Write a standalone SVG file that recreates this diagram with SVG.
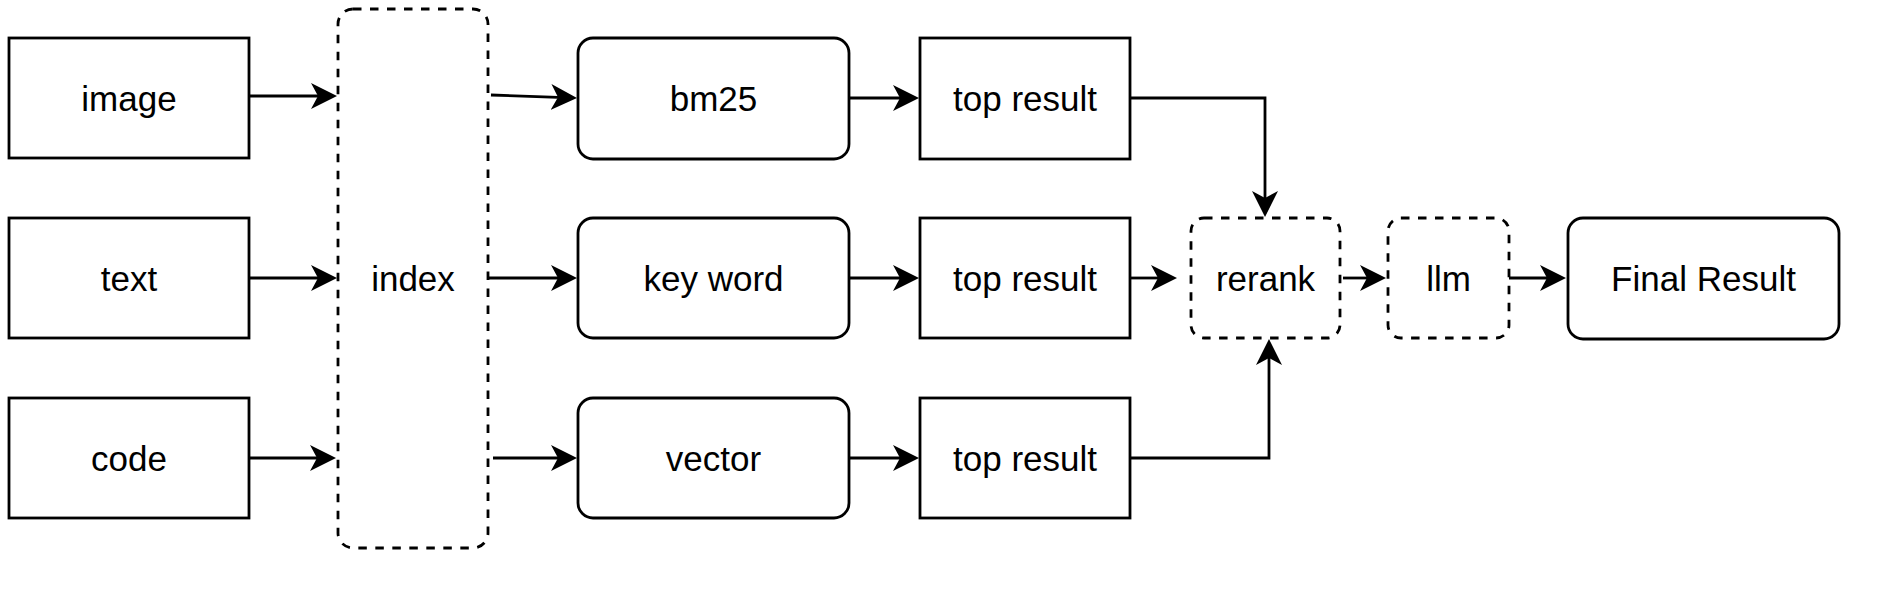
<svg xmlns="http://www.w3.org/2000/svg" width="1881" height="591" viewBox="0 0 1881 591">
  <style>
    .box { fill: #ffffff; stroke: #000000; stroke-width: 2.8; }
    .dash { fill: #ffffff; stroke: #000000; stroke-width: 2.8; stroke-dasharray: 8.5 8.5; }
    .lbl { font-family: "Liberation Sans", Helvetica, Arial, sans-serif; font-size: 35px; fill: #000000; text-anchor: middle; }
    .edge { fill: none; stroke: #000000; stroke-width: 2.8; }
  </style>
  <defs>
    <marker id="arrow" markerUnits="userSpaceOnUse" markerWidth="26" markerHeight="28" viewBox="0 0 26 28" refX="7" refY="14" orient="auto">
      <path d="M0,1 L26,14 L0,27 L7,14 Z" fill="#000000"/>
    </marker>
  </defs>
  <rect x="0" y="0" width="1881" height="591" fill="#ffffff"/>

  <g id="connectors">
    <path class="edge" marker-end="url(#arrow)" d="M249,96 L318,96"/>
    <path class="edge" marker-end="url(#arrow)" d="M249,278 L318,278"/>
    <path class="edge" marker-end="url(#arrow)" d="M249,458 L317,458"/>
    <path class="edge" marker-end="url(#arrow)" d="M491,95 L558,97.3"/>
    <path class="edge" marker-end="url(#arrow)" d="M488,278 L558,278"/>
    <path class="edge" marker-end="url(#arrow)" d="M493,458 L558,458"/>
    <path class="edge" marker-end="url(#arrow)" d="M849,98 L900,98"/>
    <path class="edge" marker-end="url(#arrow)" d="M849,278 L900,278"/>
    <path class="edge" marker-end="url(#arrow)" d="M849,458 L900,458"/>
    <path class="edge" marker-end="url(#arrow)" d="M1130,98 L1265,98 L1265,198"/>
    <path class="edge" marker-end="url(#arrow)" d="M1130,278 L1158,278"/>
    <path class="edge" marker-end="url(#arrow)" d="M1130,458 L1269,458 L1269,358"/>
    <path class="edge" marker-end="url(#arrow)" d="M1343,278 L1367,278"/>
    <path class="edge" marker-end="url(#arrow)" d="M1509,278 L1547,278"/>
  </g>

  <g id="node-image">
    <rect class="box" x="9" y="38" width="240" height="120"/>
    <text class="lbl" x="129" y="110.5">image</text>
  </g>
  <g id="node-text">
    <rect class="box" x="9" y="218" width="240" height="120"/>
    <text class="lbl" x="129" y="290.5">text</text>
  </g>
  <g id="node-code">
    <rect class="box" x="9" y="398" width="240" height="120"/>
    <text class="lbl" x="129" y="470.5">code</text>
  </g>
  <g id="node-index">
    <rect class="dash" x="338" y="9" width="150" height="539" rx="15" ry="15"/>
    <text class="lbl" x="413" y="290.5">index</text>
  </g>
  <g id="node-bm25">
    <rect class="box" x="578" y="38" width="271" height="121" rx="15" ry="15"/>
    <text class="lbl" x="713.5" y="111">bm25</text>
  </g>
  <g id="node-keyword">
    <rect class="box" x="578" y="218" width="271" height="120" rx="15" ry="15"/>
    <text class="lbl" x="713.5" y="290.5">key word</text>
  </g>
  <g id="node-vector">
    <rect class="box" x="578" y="398" width="271" height="120" rx="15" ry="15"/>
    <text class="lbl" x="713.5" y="470.5">vector</text>
  </g>
  <g id="node-top1">
    <rect class="box" x="920" y="38" width="210" height="121"/>
    <text class="lbl" x="1025" y="111">top result</text>
  </g>
  <g id="node-top2">
    <rect class="box" x="920" y="218" width="210" height="120"/>
    <text class="lbl" x="1025" y="290.5">top result</text>
  </g>
  <g id="node-top3">
    <rect class="box" x="920" y="398" width="210" height="120"/>
    <text class="lbl" x="1025" y="470.5">top result</text>
  </g>
  <g id="node-rerank">
    <rect class="dash" x="1191" y="218" width="149" height="120" rx="13" ry="13"/>
    <text class="lbl" x="1265.5" y="290.5">rerank</text>
  </g>
  <g id="node-llm">
    <rect class="dash" x="1388" y="218" width="121" height="120" rx="13" ry="13"/>
    <text class="lbl" x="1448.5" y="290.5">llm</text>
  </g>
  <g id="node-final">
    <rect class="box" x="1568" y="218" width="271" height="121" rx="15" ry="15"/>
    <text class="lbl" x="1703.5" y="290.5">Final Result</text>
  </g>
</svg>
